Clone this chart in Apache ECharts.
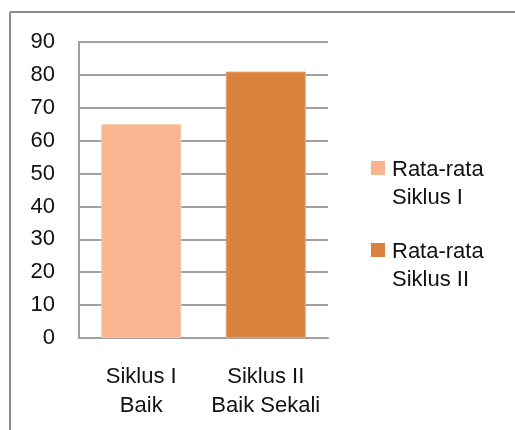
<!DOCTYPE html>
<html>
<head>
<meta charset="utf-8">
<script src="https://cdn.jsdelivr.net/npm/echarts@6/dist/echarts.min.js"></script>
<style>
html,body{margin:0;padding:0;background:#fff;}
#c{width:515px;height:430px;}
</style>
</head>
<body>
<div id="c"></div>
<script>
var categories = ['Siklus I\nBaik', 'Siklus II\nBaik Sekali'];
var seriesNames = ['Rata-rata\nSiklus I', 'Rata-rata\nSiklus II'];
var siklus1Values = [65, '-'];
var siklus2Values = ['-', 81];
var yMin = 0, yMax = 90, yStep = 10;

var FONT = 'Liberation Sans';
var TEXT = '#111111';
var legendIcon = 'path://M0,0L0.001,0L0,0.001Z M0,5L14,5L14,19L0,19Z M14,56L13.999,56L14,55.999Z';
var chart = echarts.init(document.getElementById('c'), null, {renderer: 'canvas'});
chart.setOption({
  animation: false,
  backgroundColor: '#ffffff',
  graphic: [
    {type: 'line', shape: {x1: 10, y1: 12, x2: 515, y2: 12}, style: {stroke: '#8c8c8c', lineWidth: 2}},
    {type: 'line', shape: {x1: 10, y1: 12, x2: 10, y2: 430}, style: {stroke: '#8c8c8c', lineWidth: 2}}
  ],
  grid: {left: 79, top: 42, right: 187, bottom: 92, containLabel: false},
  legend: {
    orient: 'vertical',
    left: 371,
    top: 156,
    padding: 0,
    itemWidth: 14,
    itemHeight: 56,
    itemGap: 26,
    icon: legendIcon,
    symbolKeepAspect: false,
    itemStyle: {borderWidth: 0},
    textStyle: {fontFamily: FONT, fontSize: 22, color: TEXT, lineHeight: 28, padding: [0, 0, 0, 2]},
    data: seriesNames
  },
  xAxis: {
    type: 'category',
    data: categories,
    axisLine: {lineStyle: {color: '#a0a0a0', width: 2}},
    axisTick: {show: false},
    axisLabel: {fontFamily: FONT, fontSize: 22, color: TEXT, lineHeight: 29, margin: 24, interval: 0}
  },
  yAxis: {
    type: 'value',
    min: yMin, max: yMax, interval: yStep,
    axisLine: {show: true, lineStyle: {color: '#a0a0a0', width: 2}},
    axisTick: {show: false},
    splitLine: {lineStyle: {color: '#a0a0a0', width: 2}},
    axisLabel: {fontFamily: FONT, fontSize: 22, color: TEXT, margin: 24}
  },
  series: [
    {name: seriesNames[0], type: 'bar', stack: 's', data: siklus1Values, barWidth: 80,
     itemStyle: {color: '#F9B58F', borderColor: '#FBC6A8', borderWidth: 1}},
    {name: seriesNames[1], type: 'bar', stack: 's', data: siklus2Values, barWidth: 80,
     itemStyle: {color: '#DA833E', borderColor: '#E9A26A', borderWidth: 1}}
  ]
});
</script>
</body>
</html>
